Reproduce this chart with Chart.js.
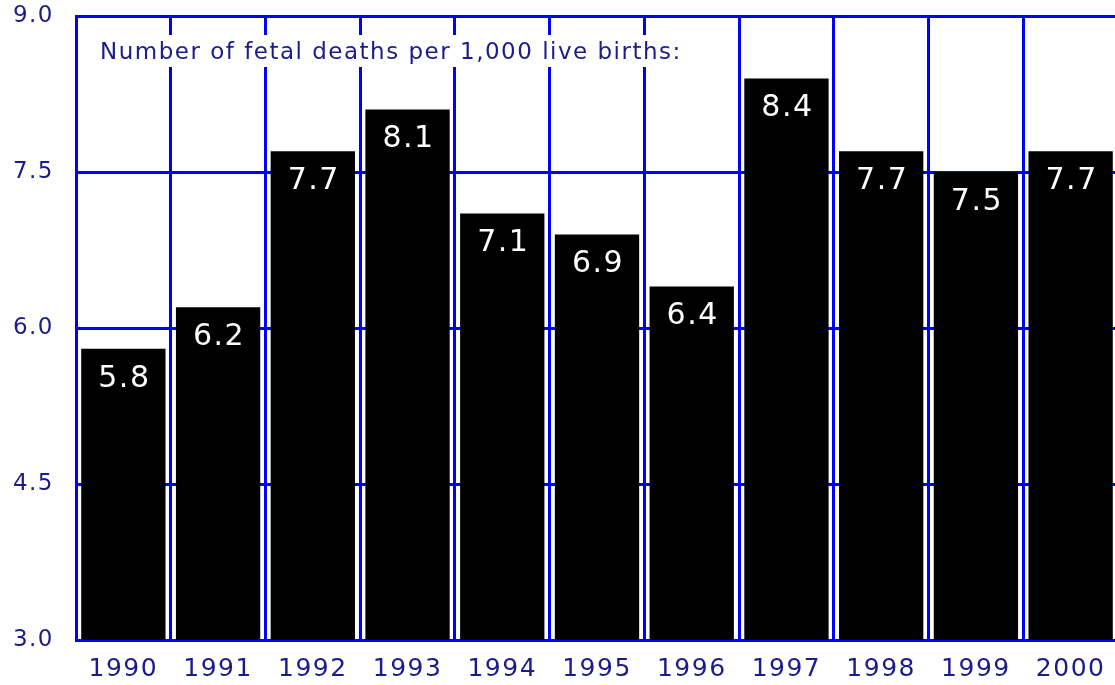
<!DOCTYPE html>
<html>
<head>
<meta charset="utf-8">
<script src="https://cdn.jsdelivr.net/npm/chart.js@4/dist/chart.umd.min.js"></script>
<style>
  html, body { margin: 0; padding: 0; background: #fff; overflow: hidden; }
  #wrap { width: 1115px; height: 685px; overflow: hidden; }
  #box { width: 1118px; height: 685px; position: relative; }
</style>
</head>
<body>
<div id="wrap"><div id="box"><canvas id="myChart"></canvas></div></div>
<script>
const years = ['1990', '1991', '1992', '1993', '1994', '1995', '1996', '1997', '1998', '1999', '2000']
const deaths = [5.8, 6.2, 7.7, 8.1, 7.1, 6.9, 6.4, 8.4, 7.7, 7.5, 7.7]
const yMin = 3.0
const yMax = 9.0
const yStep = 1.5
const note = 'Number of fetal deaths per 1,000 live births:'

const navy = '#1b1b8c'
const gridBlue = '#0000ff'
const fontFamily = '"DejaVu Sans", Verdana, sans-serif'

// spacing out the letters like the original
const spacing = {
  id: 'spacing',
  beforeDraw: chart => {
    chart.ctx.letterSpacing = '1.5px'
  }
}

// white value inside the top of each bar
const valueLabels = {
  id: 'valueLabels',
  afterDatasetsDraw: chart => {
    const ctx = chart.ctx
    const meta = chart.getDatasetMeta(0)
    ctx.save()
    ctx.fillStyle = '#ffffff'
    ctx.font = '30px ' + fontFamily
    ctx.letterSpacing = '1.5px'
    ctx.textAlign = 'center'
    ctx.textBaseline = 'middle'
    meta.data.forEach((bar, i) => {
      ctx.fillText(deaths[i].toFixed(1), bar.x + 1, bar.y + 30)
    })
    ctx.restore()
  }
}

// note text sits on a white box over the grid
const noteBox = {
  id: 'noteBox',
  afterDraw: chart => {
    const ctx = chart.ctx
    const area = chart.chartArea
    ctx.save()
    ctx.font = '23px ' + fontFamily
    ctx.letterSpacing = '1.5px'
    const w = ctx.measureText(note).width
    ctx.fillStyle = '#ffffff'
    ctx.fillRect(area.left + 6, area.top + 19, w + 20, 32)
    ctx.fillStyle = navy
    ctx.textAlign = 'left'
    ctx.textBaseline = 'middle'
    ctx.fillText(note, area.left + 24, area.top + 37)
    ctx.restore()
  }
}

new Chart('myChart', {
  type: 'bar',
  plugins: [spacing, valueLabels, noteBox],
  data: {
    labels: years,
    datasets: [
      {
        label: 'Fetal deaths',
        data: deaths,
        backgroundColor: '#000000',
        borderWidth: 0,
        barPercentage: 0.89,
        categoryPercentage: 1.0
      }
    ]
  },
  options: {
    responsive: true,
    maintainAspectRatio: false,
    animation: false,
    layout: { padding: { top: 16, left: 0, right: 0, bottom: 0 } },
    plugins: {
      legend: { display: false },
      tooltip: { enabled: false }
    },
    scales: {
      x: {
        offset: true,
        grid: {
          offset: true,
          color: gridBlue,
          lineWidth: 3,
          drawTicks: false
        },
        border: { color: gridBlue, width: 3 },
        ticks: {
          color: navy,
          font: { family: fontFamily, size: 25 },
          padding: 14,
          maxRotation: 0
        },
        afterFit: scale => { scale.height = 45 }
      },
      y: {
        min: yMin,
        max: yMax,
        grid: {
          color: gridBlue,
          lineWidth: 3,
          drawTicks: true,
          tickLength: 22,
          tickColor: 'rgba(0,0,0,0)'
        },
        border: { color: gridBlue, width: 3 },
        ticks: {
          stepSize: yStep,
          color: navy,
          font: { family: fontFamily, size: 23 },
          padding: 0,
          callback: v => v.toFixed(1)
        },
        afterFit: scale => { scale.width = 76 }
      }
    }
  }
})
</script>
</body>
</html>
